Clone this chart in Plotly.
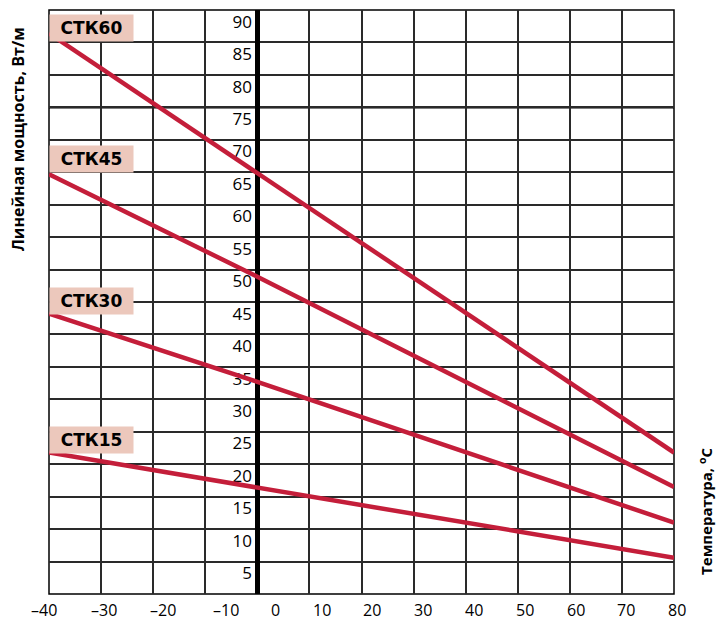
import plotly.graph_objects as go

# ---- data ----
temps = [-40, 0, 80]
ctk15 = [21.8, 16.4, 5.6]
ctk30 = [43.2, 32.7, 11.0]
ctk45 = [64.7, 48.9, 16.5]
ctk60 = [86.4, 64.8, 21.8]
series_names = ["СТК15", "СТК30", "СТК45", "СТК60"]

x_grid_values = [-40, -30, -20, -10, 0, 10, 20, 30, 40, 50, 60, 70, 80]
x_tick_text = ["–40", "–30", "–20", "–10", "0", "10", "20", "30", "40", "50", "60", "70", "80"]
y_grid_values = [0, 5, 10, 15, 20, 25, 30, 35, 40, 45, 50, 55, 60, 65, 70, 75, 80, 85, 90]
y_tick_values = [5, 10, 15, 20, 25, 30, 35, 40, 45, 50, 55, 60, 65, 70, 75, 80, 85, 90]
y_tick_text = [str(v) for v in y_tick_values]

y_title = "Линейная мощность, Вт/м"
x_title = "Температура, <sup>o</sup>C"

# ---- layout constants (positions / styles) ----
RED = "#C41E3A"
BOX = "#ECC8BC"
GRID = "#2a2a2a"
FONT = "Open Sans"
X_MIN, X_MAX = -40, 80
x_label_pos = [-40.94, -29.42, -18.10, -6.10, 3.41, 12.43, 22.03, 31.82, 41.51, 51.40, 61.19, 70.79, 80.58]
y_label_shift = 1.8
box_y = [23.7, 45.1, 67.0, 87.15]

fig = go.Figure()
for name, vals in zip(series_names, [ctk15, ctk30, ctk45, ctk60]):
    fig.add_trace(go.Scatter(x=temps, y=vals, mode="lines", name=name,
                             line=dict(color=RED, width=4.5),
                             showlegend=False, hoverinfo="skip"))

annotations = []
for t, p in zip(x_tick_text, x_label_pos):
    annotations.append(dict(x=(p - X_MIN) / (X_MAX - X_MIN), y=0, xref="paper", yref="paper",
                            text=t, showarrow=False,
                            xanchor="center", yanchor="middle", yshift=-16,
                            font=dict(family=FONT, size=16, color="black")))
for name, yb in zip(series_names, box_y):
    annotations.append(dict(x=0, y=yb, xref="paper", yref="y", text="<b>" + name + "</b>",
                            showarrow=False, xanchor="left", yanchor="middle",
                            width=83, height=26, align="center", borderpad=0,
                            bgcolor=BOX,
                            font=dict(family="DejaVu Sans", size=17, color="black")))
annotations.append(dict(x=0, y=0.779, xref="paper", yref="paper", text="<b>" + y_title + "</b>",
                        showarrow=False, textangle=-90, xanchor="center", yanchor="middle",
                        xshift=-31, font=dict(family=FONT, size=16, color="black")))
annotations.append(dict(x=1, y=0.12, xref="paper", yref="paper", text="<b>" + x_title + "</b>",
                        showarrow=False, textangle=-90, xanchor="center", yanchor="middle",
                        xshift=32, yshift=12, font=dict(family=FONT, size=15, color="black")))

fig.update_layout(
    width=716, height=621,
    margin=dict(l=49, r=42, t=10, b=27),
    paper_bgcolor="white", plot_bgcolor="white",
    xaxis=dict(range=[X_MIN, X_MAX], tickvals=x_grid_values, showticklabels=False,
               showgrid=True, gridcolor=GRID, gridwidth=1.5, zeroline=False,
               ticks="", showline=False, fixedrange=True),
    yaxis=dict(range=[0, 90], anchor="free", position=1/3,
               tickvals=[v - y_label_shift for v in y_tick_values], ticktext=y_tick_text,
               showgrid=False, zeroline=False, showline=True, linewidth=5, linecolor="black",
               ticks="", layer="below traces",
               tickfont=dict(family=FONT, size=17, color="black"),
               minor=dict(tickvals=y_grid_values, showgrid=True, gridcolor=GRID,
                          gridwidth=1.5, ticks=""), fixedrange=True),
    shapes=[
        dict(type="rect", xref="paper", yref="paper", x0=0, x1=1, y0=0, y1=1,
             line=dict(color="black", width=1.5), layer="below"),
        dict(type="line", xref="paper", yref="y", x0=0, x1=1, y0=75, y1=75,
             line=dict(color="black", width=2.5), layer="below"),
    ],
    annotations=annotations,
)

fig.write_html("out.html", config={"displayModeBar": False},
               post_script="document.body.style.margin='0';")
